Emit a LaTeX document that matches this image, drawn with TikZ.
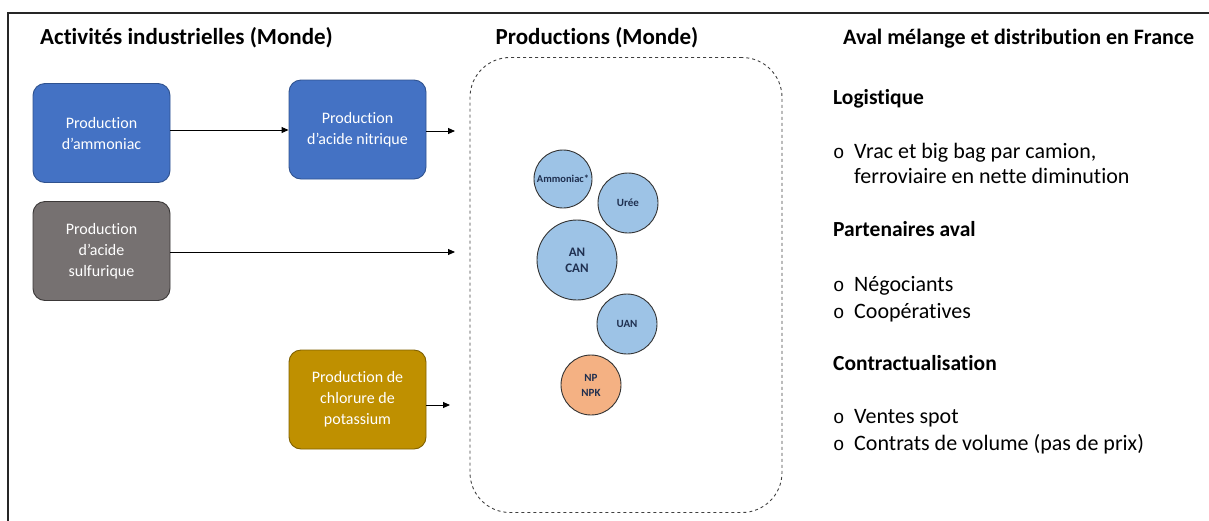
\documentclass[tikz,border=0pt]{standalone}
\usepackage{fontspec}
\setmainfont{Carlito}[Ligatures={NoCommon}]
\usetikzlibrary{arrows.meta}
\definecolor{boxblue}{HTML}{4472C4}
\definecolor{boxblueb}{HTML}{2F528F}
\definecolor{boxgray}{HTML}{767171}
\definecolor{boxgrayb}{HTML}{3B3838}
\definecolor{boxgold}{HTML}{BF9000}
\definecolor{boxgoldb}{HTML}{7F6000}
\definecolor{cblue}{HTML}{9DC3E6}
\definecolor{corange}{HTML}{F4B183}
\definecolor{ctext}{HTML}{1F2F4F}
\newcommand{\bul}{\hbox to 21pt{\fontspec{Liberation Mono}\fontsize{19}{20}\selectfont o\hfil}}
\tikzset{
  procbox/.style={draw=#1, line width=0.9pt, rounded corners=12pt, minimum width=137pt, minimum height=99pt, text=white, align=center, font=\fontsize{16}{21}\selectfont, inner sep=0pt},
  prodcirc/.style={circle, draw=black!80, line width=0.9pt, fill=cblue, text=ctext, align=center, inner sep=0pt},
  header/.style={font=\fontsize{23}{26}\selectfont\bfseries, anchor=base west, inner sep=0pt},
  subhead/.style={font=\fontsize{21.5}{24}\selectfont\bfseries, anchor=base west, inner sep=0pt},
  item/.style={font=\fontsize{22}{26}\selectfont, anchor=base west, inner sep=0pt},
  flow/.style={-{Triangle[length=7pt,width=6pt]}, line width=0.9pt, black}
}
\begin{document}
\begin{tikzpicture}[x=1pt,y=-1pt]
\useasboundingbox (0,0) rectangle (1209,520);
% frame
\draw[line width=1.4pt, black!85] (8,540) -- (8,13) -- (1230,13);
% headers
\node[header] (h1) at (40,44) {Activités industrielles (Monde)};
\node[header, anchor=base] (h2) at (597,44) {Productions (Monde)};
\node[header, font=\fontsize{22}{26}\selectfont\bfseries] (h3) at (843,44) {Aval mélange et distribution en France};
% boxes
\node[procbox=boxblueb, fill=boxblue] (amm) at (101.5,133) {Production\\d’ammoniac};
\node[procbox=boxblueb, fill=boxblue] (nit) at (357.5,129.5) {Production\\d’acide nitrique};
\node[procbox=boxgrayb, fill=boxgray] (sulf) at (101.5,251) {Production\\d’acide\\sulfurique};
\node[procbox=boxgoldb, fill=boxgold] (pot) at (357.5,399.5) {Production de\\chlorure de\\potassium};
% dashed container
\node[draw=black!75, dashed, line width=0.9pt, rounded corners=40pt, minimum width=312pt, minimum height=455pt, inner sep=0pt] (cont) at (626,285) {};
\coordinate (e1) at (455,131);
\coordinate (e2) at (455,252);
\coordinate (e3) at (450,405);
\draw[flow] (amm.east |- 0,130) -- (nit.west |- 0,130);
\draw[flow] (nit.east |- e1) -- (e1);
\draw[flow] (sulf.east |- e2) -- (e2);
\draw[flow] (pot.east |- e3) -- (e3);
% circles
\node[prodcirc, minimum size=58pt, font=\fontsize{10.5}{12}\selectfont\bfseries] (c1) at (563,179) {Ammoniac*};
\node[prodcirc, minimum size=60pt, font=\fontsize{11}{12}\selectfont\bfseries] (c2) at (628,203) {Urée};
\node[prodcirc, minimum size=80pt, font=\fontsize{13}{16}\selectfont\bfseries] (c3) at (577,260) {AN\\CAN};
\node[prodcirc, minimum size=60pt, font=\fontsize{11}{12}\selectfont\bfseries] (c4) at (627,324) {UAN};
\node[prodcirc, minimum size=60pt, fill=corange, font=\fontsize{11}{15}\selectfont\bfseries] (c5) at (591,385) {NP\\NPK};
% right column
\node[subhead] (s1) at (833,104) {Logistique};
\node[item] (i1a) at (833,158) {\bul Vrac et big bag par camion,};
\node[item] (i1b) at (854,183) {ferroviaire en nette diminution};
\node[subhead] (s2) at (833,236) {Partenaires aval};
\node[item] (i2a) at (833,291) {\bul Négociants};
\node[item] (i2b) at (833,318) {\bul Coopératives};
\node[subhead] (s3) at (833,370) {Contractualisation};
\node[item] (i3a) at (833,423) {\bul Ventes spot};
\node[item] (i3b) at (833,450) {\bul Contrats de volume (pas de prix)};
\end{tikzpicture}
\end{document}
